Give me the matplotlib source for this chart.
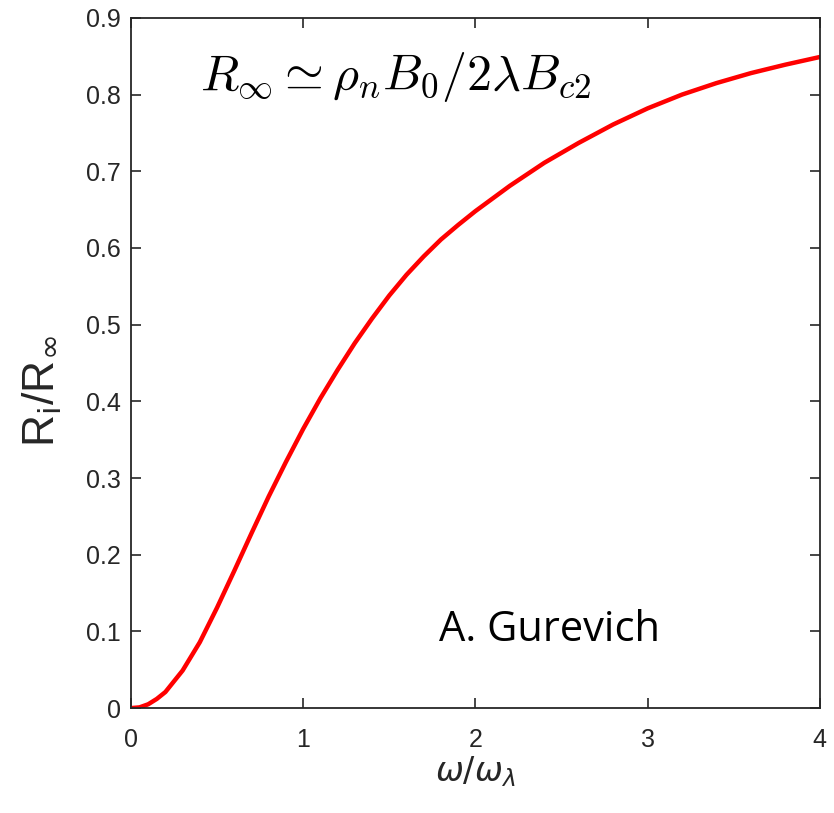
import numpy as np
import matplotlib
matplotlib.use("Agg")
import matplotlib.pyplot as plt

# ── data ──────────────────────────────────────
omega_ratio = [0, 0.05, 0.1, 0.15, 0.2, 0.3, 0.4, 0.5, 0.6, 0.7, 0.8, 0.9,
               1.0, 1.1, 1.2, 1.3, 1.4, 1.5, 1.6, 1.7, 1.8, 1.9, 2.0, 2.2,
               2.4, 2.6, 2.8, 3.0, 3.2, 3.4, 3.6, 3.8, 4.0]
r_ratio     = [0, 0.001, 0.005, 0.012, 0.021, 0.049, 0.086, 0.131, 0.179,
               0.228, 0.276, 0.321, 0.364, 0.404, 0.441, 0.476, 0.508, 0.538,
               0.565, 0.589, 0.611, 0.630, 0.648, 0.681, 0.711, 0.737, 0.761,
               0.782, 0.800, 0.815, 0.828, 0.839, 0.849]

x_ticks = [0, 1, 2, 3, 4]
y_ticks = [0, 0.1, 0.2, 0.3, 0.4, 0.5, 0.6, 0.7, 0.8, 0.9]
y_tick_labels = ["0", "0.1", "0.2", "0.3", "0.4", "0.5", "0.6", "0.7", "0.8", "0.9"]

AX_COLOR = "#262626"
plt.rcParams["font.family"] = ["Liberation Sans", "DejaVu Sans"]

fig = plt.figure(figsize=(8.34, 8.13), dpi=100)
ax = fig.add_axes([0.157, 0.129, 0.826, 0.849])

ax.plot(omega_ratio, r_ratio, color="red", linewidth=3.2, solid_capstyle="round")

ax.set_xlim(0, 4)
ax.set_ylim(0, 0.9)
ax.set_xticks(x_ticks)
ax.set_yticks(y_ticks)
ax.set_yticklabels(y_tick_labels)
ax.tick_params(direction="in", length=7, width=1.2, colors=AX_COLOR,
               labelsize=18, top=True, right=True)
ax.tick_params(axis="x", pad=14)
ax.tick_params(axis="y", pad=7)
for sp in ax.spines.values():
    sp.set_color(AX_COLOR)
    sp.set_linewidth(1.3)

ax.set_xlabel(r"$\omega/\omega_\lambda$", fontsize=24, color=AX_COLOR, labelpad=2)
ax.set_ylabel(r"R$_\mathrm{i}$/R$_\infty$", fontsize=32, color=AX_COLOR)
ax.yaxis.set_label_coords(-0.097, 0.46)

# formula + credit
ax.text(0.40, 0.823, r"$R_\infty \simeq \rho_n B_0/2\lambda B_{c2}$",
        fontsize=36, math_fontfamily="cm", ha="left", va="center", color="black")
ax.text(2.43, 0.102, "A. Gurevich", fontsize=30, family="Open Sans",
        ha="center", va="center", color="black")

plt.savefig("out.png", dpi=100)
